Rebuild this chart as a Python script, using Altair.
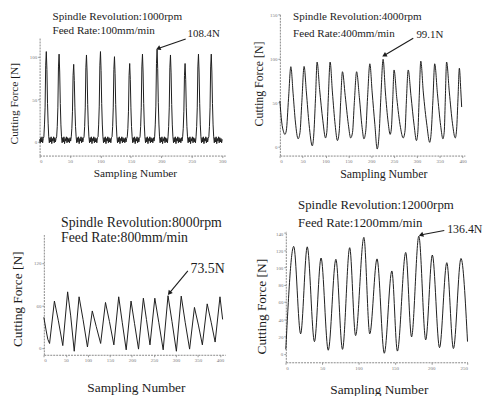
import altair as alt
import pandas as pd

FONT = "Liberation Serif"
INK = "#1c1c1c"

# ---------------- data ----------------
# Panel 1 (1000 rpm): one value per sampling number 0..300
p1_force = [
    3, -1, 5, 0, 6, -1, 4,
    6, 20, 40, 90, 106, 85, 45, 22, 6,
    -1, 5, 0, 6, -2, 4, 1, 6, -1, 5, 0, 4,
    6, 18, 40, 88, 103, 82, 45, 20, 6,
    -1, 5, 0, 6, -2, 4, 1, 6, -1, 5, 0, 4, -1, 5, 1,
    6, 16, 36, 78, 91, 72, 40, 18, 6,
    -1, 5, 0, 6, -2, 4, 1, 6, -1, 5, 0, 4,
    6, 18, 40, 87, 102, 82, 44, 20, 6,
    -1, 5, 0, 6, -2, 4, 1, 6, -1, 5, 0, 4, -1, 5,
    6, 20, 42, 90, 106, 84, 45, 21, 6,
    -1, 5, 0, 6, -2, 4, 1, 6, -1, 5, 0, 4, -1, 5,
    6, 18, 40, 85, 100, 80, 44, 20, 6,
    -1, 5, 0, 6, -2, 4, 1, 6, -1, 5, 0, 4, -1, 5, 0, 4,
    6, 16, 36, 78, 92, 73, 40, 18, 6,
    -1, 5, 0, 6, -2, 4, 1, 6, -1, 5, 0, 4,
    6, 18, 40, 88, 103, 82, 45, 20, 6,
    -1, 5, 0, 6, -2, 4, 1, 6, -1, 5, 0, 4, -1, 5, 1,
    6, 20, 42, 92, 108.4, 86, 46, 21, 6,
    -1, 5, 0, 6, -2, 4, 1, 6, -1, 5, 0, 4, -1,
    6, 18, 40, 87, 102, 81, 44, 20, 6,
    -1, 5, 0, 6, -2, 4, 1, 6, -1, 5, 0, 4, -1, 5, 1,
    6, 16, 36, 78, 92, 73, 40, 18, 6,
    -1, 5, 0, 6, -2, 4, 1, 6, -1, 5, 0, 4, -1,
    6, 18, 40, 88, 103, 82, 45, 20, 6,
    -1, 5, 0, 6, -2, 4, 1, 6, -1, 5, 0, 4,
    6, 18, 40, 88, 103, 82, 45, 20, 6,
    -1, 5, 0, 6, -2, 4, 1, 6, -1, 5, 0, 4, -1, 3,
]

# Panel 2 (4000 rpm)
p2_sample = [0, 4, 8, 11, 14, 19, 24, 29, 34, 40, 44, 48, 53, 58, 64, 71, 74, 78, 81.5,
             87, 94, 100, 103, 106, 110, 115, 121, 126, 130, 133, 137, 143, 150, 155, 159,
             163, 168, 174, 180, 184, 188, 192, 197, 202, 208, 213, 217, 221, 226, 231, 237,
             241.5, 244, 247, 250, 256, 264, 270, 274, 277, 281, 287, 294, 299, 302, 305,
             308.5, 314, 322, 328, 331, 335, 339, 345, 352, 357, 360, 362, 365, 371, 378,
             384, 387, 390, 393, 396, 398]
p2_force = [52, 28, 17, 14, 18, 55, 90.7, 60, 28, 9, 16, 50, 91, 62, 25, 1, 12, 55, 96,
            65, 30, 10, 18, 55, 96, 62, 25, 7, 18, 50, 85, 58, 25, 10, 16,
            50, 85, 56, 22, 9, 18, 56, 94, 62, 25, -2.6, 12, 55, 99.1, 62, 28,
            14, 20, 52, 87, 55, 22, 10, 18, 52, 87, 58, 24, 7, 16, 55,
            97, 62, 24, 5, 14, 52, 94, 60, 24, 9, 18, 50, 96, 62, 26,
            10, 20, 55, 89, 65, 45]

# Panel 3 (8000 rpm)
p3_sample = [0, 5, 9, 13, 24, 33, 43, 54, 61, 69, 80, 89, 99, 110, 119, 129, 140, 149, 159,
             170, 178, 187, 198, 206, 215, 226, 233, 241, 252, 261, 271, 282, 291, 301,
             312, 321, 331, 342, 351, 360, 371, 380, 389, 400, 406]
p3_force = [43, 25, 12, 6, 66, 38, 3, 79, 45, -5, 72, 40, 1, 52, 30, 6, 64, 37, 4,
            72, 36, -3, 66, 34, -2, 70, 40, 4, 70, 36, -3, 73.5, 37, -5,
            73, 36, -2, 57, 32, 4, 62, 36, 8, 72, 40]

# Panel 4 (12000 rpm)
p4_sample = [0, 10.9, 20.4, 29.5, 39.4, 48.5, 58.4, 68.9, 78, 87.9, 96, 107.4, 115.5,
             125.5, 135.5, 145.9, 153.5, 165, 173, 183, 192.5, 201.6, 211.5, 221.5,
             230.6, 241, 250]
p4_force = [5, 124.5, 23, 124, 14, 111, 4, 109.5, 5, 123, 21, 135, 23,
            110, 0.5, 96, 3, 117.5, 19.5, 136.4, 16, 114.5, 7, 105.6,
            6, 110.5, 14]

p1_xticks = [0, 50, 100, 150, 200, 250, 300]
p1_yticks = [0, 50, 100]
p2_xticks = [0, 50, 100, 150, 200, 250, 300, 350, 400]
p2_yticks = [0, 50, 100, 150]
p3_xticks = [0, 50, 100, 150, 200, 250, 300, 350, 400]
p3_yticks = [0, 60, 120]
p4_xticks = [0, 50, 100, 150, 200, 250]
p4_yticks = [0, 20, 40, 60, 80, 100, 120, 140]

spindle = ["Spindle Revolution:1000rpm", "Spindle Revolution:4000rpm",
           "Spindle Revolution:8000rpm", "Spindle Revolution:12000rpm"]
feed = ["Feed Rate:100mm/min", "Feed Rate:400mm/min",
        "Feed Rate:800mm/min", "Feed Rate:1200mm/min"]
peak_label = ["108.4N", "99.1N", "73.5N", "136.4N"]
# annotation anchors in (sampling number, force)
label_at = [(243, 126.5), (299, 126.5), (333, 111), (222, 145)]
arrow_from = [(240, 120.7), (292, 123), (327, 108.7), (218, 143)]
arrow_to = [(196, 110), (230, 104), (286, 78), (187, 138)]

# ---------------- layout (pixels inside the view) ----------------
VIEW_H = 388
specs = [
    dict(xdom=[0, 305], xrange=[32, 220], ydom=[-16, 123], yrange=[147, 27],
         xt=p1_xticks, yt=p1_yticks, interp="linear",
         xtitle=(128.5, 18), ytitle=(-25, 94), tfs=11.5, yaxis_x=32,
         head=(45, 7, 45, 20.5, 11.3), lfs=11, ang=246),
    dict(xdom=[0, 405], xrange=[275.3, 462.6], ydom=[-10, 150], yrange=[147, 4],
         xt=p2_xticks, yt=p2_yticks, interp="monotone",
         xtitle=(380, 18), ytitle=(-21.6, 74), tfs=12, yaxis_x=275.3,
         head=(288.7, 7, 288.7, 23.7, 11.2), lfs=11, ang=241),
    dict(xdom=[0, 412], xrange=[36.3, 220], ydom=[-10, 160], yrange=[348.7, 227],
         xt=p3_xticks, yt=p3_yticks, interp="linear",
         xtitle=(129.5, 33), ytitle=(-26.3, 292), tfs=13.5, yaxis_x=36.3,
         head=(53.7, 215, 53.7, 230.3, 14), lfs=14, ang=219),
    dict(xdom=[0, 250], xrange=[281.3, 465.3], ydom=[-10, 142], yrange=[356.3, 223.7],
         xt=p4_xticks, yt=p4_yticks, interp="monotone",
         xtitle=(375.5, 27.4), ytitle=(-24.3, 299.5), tfs=13.5, yaxis_x=281.3,
         head=(293.7, 197, 293.7, 215.3, 13), lfs=12, ang=251),
]

series = [
    pd.DataFrame({"sample": list(range(len(p1_force))), "force": p1_force}),
    pd.DataFrame({"sample": p2_sample, "force": p2_force}),
    pd.DataFrame({"sample": p3_sample, "force": p3_force}),
    pd.DataFrame({"sample": p4_sample, "force": p4_force}),
]


def panel(i):
    s = specs[i]
    xs = alt.Scale(domain=s["xdom"], range=s["xrange"], nice=False, zero=False)
    ys = alt.Scale(domain=s["ydom"], range=s["yrange"], nice=False, zero=False)
    xaxis = alt.Axis(orient="bottom", offset=s["yrange"][0] - VIEW_H, values=s["xt"],
                     title="Sampling Number", titleX=s["xtitle"][0], titleY=s["xtitle"][1],
                     titleBaseline="middle", titleAlign="center", titleFontSize=s["tfs"])
    yaxis = alt.Axis(orient="left", offset=-s["yaxis_x"], values=s["yt"],
                     title="Cutting Force [N]", titleX=s["ytitle"][0], titleY=s["ytitle"][1],
                     titleAngle=270, titleBaseline="middle", titleAlign="center",
                     titleFontSize=s["tfs"])
    line = alt.Chart(series[i]).mark_line(
        color=INK, strokeWidth=1, interpolate=s["interp"]
    ).encode(
        x=alt.X("sample:Q", scale=xs, axis=xaxis),
        y=alt.Y("force:Q", scale=ys, axis=yaxis),
    )
    ann = pd.DataFrame({
        "lx": [label_at[i][0]], "ly": [label_at[i][1]], "label": [peak_label[i]],
        "tx": [arrow_from[i][0]], "ty": [arrow_from[i][1]],
        "hx": [arrow_to[i][0]], "hy": [arrow_to[i][1]],
    })
    rule = alt.Chart(ann).mark_rule(color=INK, strokeWidth=1.1).encode(
        x=alt.X("tx:Q", scale=xs, axis=xaxis), y=alt.Y("ty:Q", scale=ys, axis=yaxis),
        x2="hx:Q", y2="hy:Q")
    tip = alt.Chart(ann).mark_point(shape="triangle", filled=True, size=28, opacity=1,
                                    color=INK, angle=s["ang"]).encode(
        x=alt.X("hx:Q", scale=xs, axis=xaxis), y=alt.Y("hy:Q", scale=ys, axis=yaxis))
    txt = alt.Chart(ann).mark_text(align="left", baseline="middle", font=FONT,
                                   fontSize=s["lfs"], color=INK).encode(
        x=alt.X("lx:Q", scale=xs, axis=xaxis), y=alt.Y("ly:Q", scale=ys, axis=yaxis),
        text="label:N")
    hx1, hy1, hx2, hy2, hfs = s["head"]
    one = pd.DataFrame({"k": [0]})
    h1 = alt.Chart(one).mark_text(align="left", baseline="middle", font=FONT,
                                  fontSize=hfs, color=INK).encode(
        x=alt.value(hx1), y=alt.value(hy1), text=alt.value(spindle[i]))
    h2 = alt.Chart(one).mark_text(align="left", baseline="middle", font=FONT,
                                  fontSize=hfs, color=INK).encode(
        x=alt.value(hx2), y=alt.value(hy2), text=alt.value(feed[i]))
    return alt.layer(line, rule, tip, txt, h1, h2)


chart = alt.layer(*[panel(i) for i in range(4)]).resolve_scale(
    x="independent", y="independent"
).resolve_axis(
    x="independent", y="independent"
).properties(
    width=483, height=VIEW_H, padding=0,
    autosize=alt.AutoSizeParams(type="none"),
    background="white",
).configure_view(stroke=None).configure_axis(
    grid=False, labelFont=FONT, labelFontSize=5, labelColor="#777", labelPadding=1,
    tickColor="#999", tickSize=2, domainColor="#888", domainDash=[2, 1],
    titleFont=FONT, titleFontWeight="normal", titleColor=INK,
)

chart.save("out.html", embed_options={"renderer": "svg", "actions": False})
